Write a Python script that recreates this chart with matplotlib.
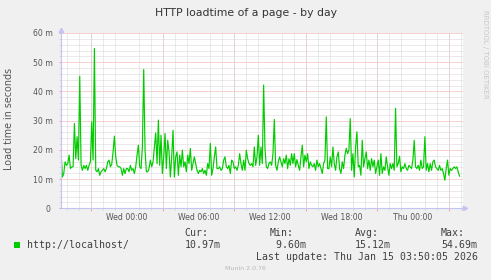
import numpy as np
import pandas as pd
import matplotlib
matplotlib.use('Agg')
import matplotlib.pyplot as plt
import matplotlib.dates as mdates
from matplotlib.patches import Rectangle

title = 'HTTP loadtime of a page - by day'
y_label = 'Load time in seconds'
series_name = 'http://localhost/'
first_sample = '2026-01-13 18:28'
last_sample = '2026-01-15 03:54'
view_start = '2026-01-13 18:25'
view_end = '2026-01-15 04:10'

# load time in milliseconds (roughly every 6-7 minutes)
load_ms = [
    19.3, 10.7, 11.9, 15.9, 14.7, 15.3, 18.2, 13.6, 14.2, 14.2,
    29.0, 17.0, 24.5, 16.5, 45.2, 14.7, 13.0, 14.7, 13.6, 14.7,
    13.0, 14.7, 15.9, 29.6, 16.5, 54.7, 13.0, 12.5, 13.6, 11.3,
    12.5, 13.0, 13.6, 12.5, 13.6, 15.9, 16.5, 14.2, 15.1, 19.3,
    24.7, 17.6, 14.7, 14.2, 14.2, 13.6, 11.3, 13.6, 11.9, 13.6,
    13.6, 12.5, 14.7, 13.0, 13.6, 11.9, 14.2, 18.2, 21.6, 14.2,
    13.6, 21.0, 47.5, 19.9, 12.5, 12.5, 13.6, 16.5, 14.2, 15.9,
    21.0, 25.8, 15.3, 30.2, 14.7, 25.0, 11.9, 17.6, 25.6, 13.6,
    23.3, 19.3, 10.7, 17.6, 26.7, 10.7, 17.6, 19.3, 11.3, 18.2,
    14.2, 19.9, 14.2, 15.9, 12.5, 18.2, 15.3, 20.5, 13.0, 15.3,
    17.6, 15.3, 13.0, 11.9, 13.0, 12.5, 13.6, 11.9, 13.0, 11.3,
    15.3, 13.6, 22.2, 11.3, 13.6, 17.6, 21.0, 13.6, 13.6, 14.2,
    13.0, 13.6, 16.5, 17.6, 14.2, 13.6, 14.7, 11.9, 16.5, 15.9,
    13.6, 14.2, 13.0, 14.7, 18.7, 15.3, 13.0, 16.5, 13.0, 19.9,
    17.0, 15.3,
    14.7, 15.3, 14.2, 21.0, 14.7, 17.6, 25.0, 14.7, 21.0, 15.3,
    42.2, 20.5, 14.2, 13.6, 15.3, 15.9, 14.7, 18.7, 30.4, 14.7,
    13.0, 15.9, 17.6, 15.9, 14.2, 17.0, 15.3, 18.2, 13.6, 17.0,
    14.7, 18.7, 15.3, 18.7, 14.2, 16.7, 14.7, 13.0, 17.6, 21.6,
    14.2, 18.2, 15.9, 18.7, 13.6, 15.9, 14.7, 14.2, 15.3, 13.0,
    16.5, 14.2, 15.3, 13.6, 11.9, 15.3, 16.5, 31.3, 13.6, 13.6,
    17.6, 14.2, 21.0, 15.3, 13.0, 17.6, 19.3, 13.6, 11.9, 15.9,
    13.6, 18.2, 20.5, 18.7, 19.9, 30.7, 13.0, 18.7, 10.7, 21.0,
    26.2, 14.2, 14.7, 11.3, 23.3, 14.2, 17.0, 19.3, 13.6, 16.5,
    13.0, 17.0, 14.2, 16.5, 11.9, 14.2, 16.5, 11.3, 18.7, 11.9,
    14.2, 13.0, 17.6, 14.2, 11.3, 15.3, 13.6, 15.3, 13.0, 34.2,
    14.2, 15.3, 17.8, 12.5, 14.2, 13.6, 15.3, 13.6, 13.0, 14.7,
    14.2, 13.6, 16.5, 23.3, 14.2, 13.6, 14.7, 13.0, 16.5, 13.6,
    14.2, 24.5, 13.0, 15.3, 12.5, 15.3, 13.0, 15.9, 16.5, 14.2,
    13.6, 13.0, 14.7, 13.0, 13.6, 11.9, 9.6, 13.6, 16.5, 11.3,
    13.6, 13.0, 13.6, 14.2, 13.6, 14.2, 12.5, 11.0,
]

y_ticks = [0, 10, 20, 30, 40, 50, 60]
y_tick_labels = ['0 ', '10 m', '20 m', '30 m', '40 m', '50 m', '60 m']
stat_names = ['Cur:', 'Min:', 'Avg:', 'Max:']
stat_values = [10.97, 9.60, 15.12, 54.69]
last_update = 'Last update: Thu Jan 15 03:50:05 2026'
footer = 'Munin 2.0.76'
watermark = 'RRDTOOL / TOBI OETIKER'

W, H = 491, 280
green = '#00CC00'
red_grid = '#F0A4A4'
gray_grid = '#D6D6D6'
axis_col = '#C4C4F4'
text_col = '#404040'


def px(x, y):
    return x / W, 1 - y / H


times = pd.date_range(first_sample, last_sample, periods=len(load_ms))

fig = plt.figure(figsize=(W / 100, H / 100), dpi=100, facecolor='#F0F0F0')
ax = fig.add_axes([60.5 / W, 1 - 208.3 / H, 402.2 / W, 175.3 / H])
ax.set_facecolor('white')

t0, t1 = pd.Timestamp(view_start), pd.Timestamp(view_end)
ax.set_xlim(t0, t1)
ax.set_ylim(0, 60)

# grid: gray every hour / 2 m, red every 6 hours / 10 m
ax.xaxis.set_major_locator(mdates.HourLocator(byhour=[0, 6, 12, 18]))
ax.xaxis.set_major_formatter(mdates.DateFormatter('%a %H:%M'))
ax.xaxis.set_minor_locator(mdates.HourLocator(interval=1))
ax.set_yticks(y_ticks)
ax.set_yticklabels(y_tick_labels)
ax.set_yticks(np.arange(0, 61, 2), minor=True)
ax.grid(which='minor', color=gray_grid, linestyle=(0, (1, 1)), linewidth=0.72)
ax.grid(which='major', visible=False)

red_times = mdates.HourLocator(byhour=[3, 9, 15, 21]).tick_values(t0, t1)
red_times = [t for t in red_times if mdates.date2num(t0) < t < mdates.date2num(t1)]
for t in red_times:
    ax.axvline(t, color=red_grid, linestyle=(0, (1, 1)), linewidth=0.72, zorder=1)
ax.vlines(red_times, -0.8, 0, colors=red_grid, linewidth=0.72, clip_on=False)
for v in y_ticks[1:]:
    ax.axhline(v, color=red_grid, linestyle=(0, (1, 1)), linewidth=0.72, zorder=1)

ax.tick_params(axis='x', which='major', length=0, pad=3.2, labelsize=5.6,
               labelcolor='#555555')
ax.tick_params(axis='x', which='minor', length=1.5, width=0.72, color=gray_grid)
ax.tick_params(axis='y', which='major', length=1.2, width=0.72, color=red_grid,
               pad=4, labelsize=5.6, labelcolor='#555555')
ax.tick_params(axis='y', which='minor', length=1.2, width=0.72, color=gray_grid)
for lab in ax.get_xticklabels() + ax.get_yticklabels():
    lab.set_family('DejaVu Sans')

for side in ['top', 'right']:
    ax.spines[side].set_visible(False)
for side in ['left', 'bottom']:
    ax.spines[side].set_color(axis_col)
    ax.spines[side].set_linewidth(0.8)
    ax.spines[side].set_zorder(5)

ax.plot(times, load_ms, color=green, linewidth=0.85, zorder=4)

# axis arrows
ax.plot([0], [1 + 3 / 175.3], marker='^', markersize=3.2, color=axis_col,
        transform=ax.transAxes, clip_on=False)
ax.plot([1 + 2.5 / 402.2], [0], marker='>', markersize=3.2, color=axis_col,
        transform=ax.transAxes, clip_on=False)

fig.text(*px(246, 12.5), title, ha='center', va='center', fontsize=7.8, color='#333333')
fig.text(*px(9.5, 119), y_label, rotation=90, ha='center', va='center',
         fontsize=6.9, color='#555555')
fig.text(*px(485, 54), watermark, rotation=270, ha='center', va='center',
         fontsize=5, color='#C8C8C8')

# legend
fig.add_artist(Rectangle(px(13.7, 247.7), 6 / W, 6 / H, transform=fig.transFigure,
                         facecolor=green, edgecolor='none'))
mono = dict(family='DejaVu Sans Mono', fontsize=7.1, color=text_col, va='center')
fig.text(*px(26.7, 244.5), series_name, **mono)
for name, val, x in zip(stat_names, stat_values, [184.3, 270, 355, 441]):
    fig.text(*px(x, 232.7), name, **mono)
    fig.text(*px(x, 244.5), '%5.2fm' % val, **mono)
fig.text(*px(255.7, 256.7), last_update, **mono)
fig.text(*px(245, 268.3), footer, ha='center', va='center', fontsize=4.5,
         color='#B8B8B8')

fig.savefig('out.png', dpi=100, facecolor=fig.get_facecolor())
